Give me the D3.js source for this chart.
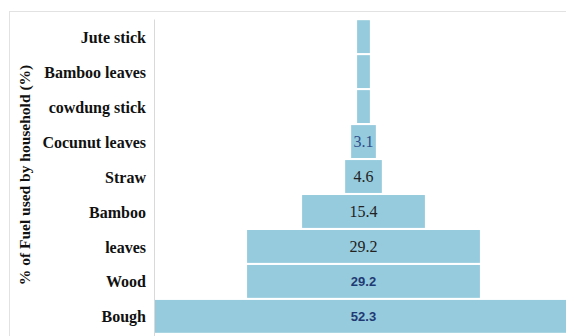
<!DOCTYPE html>
<html>
<head>
<meta charset="utf-8">
<script src="https://cdn.jsdelivr.net/npm/d3@7"></script>
<style>
  html, body { margin: 0; padding: 0; background: #fff; }
  svg { display: block; }
</style>
</head>
<body>
<svg id="chart" width="566" height="336"></svg>
<script>
// Fuel types, top to bottom
const categories = ["Jute stick", "Bamboo leaves", "cowdung stick", "Cocunut leaves",
                    "Straw", "Bamboo", "leaves", "Wood", "Bough"];
// Share of households using each fuel (%)
const values = [1.6, 1.6, 1.6, 3.1, 4.6, 15.4, 29.2, 29.2, 52.3];
// Values printed inside the bars (the three thinnest bars carry no label)
const shownLabels = ["", "", "", "3.1", "4.6", "15.4", "29.2", "29.2", "52.3"];
const axisTitle = "% of Fuel used by household (%)";

const SERIF = "Liberation Serif";
const SANS = "Liberation Sans";

const svg = d3.select("#chart");
const W = 566, H = 336;

// chart frame
svg.append("rect")
  .attr("x", 9.5).attr("y", 11.5)
  .attr("width", W).attr("height", H)
  .attr("fill", "none").attr("stroke", "#e2e2e2");

const plot = { left: 154, top: 19.5, bottom: 333.5 };
const centerX = 363.5;

const y = d3.scaleBand()
  .domain(categories)
  .range([plot.top, plot.bottom])
  .paddingInner(0.06)
  .paddingOuter(0.02);

const x = d3.scaleLinear().domain([0, 52.3]).range([0, 417]);

// category axis
const yAxis = d3.axisLeft(y).tickSize(0).tickPadding(8);
const gy = svg.append("g")
  .attr("transform", `translate(${plot.left},0)`)
  .call(yAxis)
  .attr("font-family", SERIF)
  .attr("font-size", 16);
gy.select(".domain").attr("stroke", "#d9d9d9").attr("stroke-width", 1)
  .attr("d", `M0.5,${plot.top}V${H}`);
gy.selectAll(".tick text")
  .attr("font-family", SERIF)
  .attr("font-weight", "bold")
  .attr("font-size", 16)
  .attr("fill", "#111")
  .attr("dy", "0.38em");

// centred funnel bars
svg.append("g").selectAll("rect")
  .data(values)
  .join("rect")
  .attr("x", d => centerX - x(d) / 2)
  .attr("y", (d, i) => y(categories[i]))
  .attr("width", d => x(d))
  .attr("height", y.bandwidth())
  .attr("fill", "#95cbdd");

// value labels: serif for the upper bars, bold sans for Wood and Bough
const boldRows = new Set(["Wood", "Bough"]);
const labelColor = { "Cocunut leaves": "#2f4f8a" };
svg.append("g").selectAll("text")
  .data(values)
  .join("text")
  .attr("x", centerX)
  .attr("y", (d, i) => y(categories[i]) + y.bandwidth() / 2)
  .attr("text-anchor", "middle")
  .attr("dy", "0.36em")
  .each(function (d, i) {
    const t = d3.select(this);
    const cat = categories[i];
    if (boldRows.has(cat)) {
      t.attr("font-family", SANS)
       .attr("font-weight", "bold").attr("font-size", 13)
       .attr("fill", "#1f3a73");
    } else {
      t.attr("font-family", SERIF)
       .attr("font-size", 16)
       .attr("fill", labelColor[cat] || "#222");
    }
  })
  .text((d, i) => shownLabels[i] ? d3.format(".1f")(d) : "");

// rotated axis title
svg.append("text")
  .attr("transform", `translate(30,175) rotate(-90)`)
  .attr("text-anchor", "middle")
  .attr("font-family", SERIF)
  .attr("font-weight", "bold")
  .attr("font-size", 15.5)
  .attr("fill", "#111")
  .text(axisTitle);
</script>
</body>
</html>
